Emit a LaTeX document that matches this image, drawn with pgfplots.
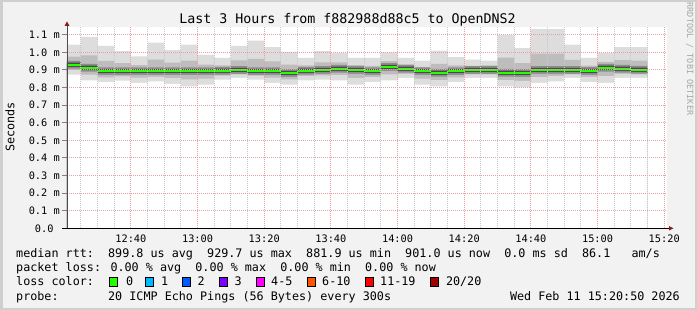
\documentclass[border=0pt]{standalone}
\usepackage{fontspec}
\setmainfont{DejaVu Sans Mono}
\usepackage{pgfplots}
\usepackage{pgfplotstable}
\pgfplotsset{compat=1.18}
\definecolor{bgc}{HTML}{F2F2F2}
\definecolor{frm}{HTML}{CFCFCF}
\definecolor{s1}{HTML}{DDDDDD}
\definecolor{s2}{HTML}{BDBDBD}
\definecolor{s3}{HTML}{8C8C8C}
\definecolor{s4}{HTML}{4A4A4A}
\definecolor{medc}{HTML}{26FF00}
\definecolor{mgrid}{HTML}{E8A0A0}
\definecolor{ngrid}{HTML}{C8C8C8}
\definecolor{arr}{HTML}{8B1A1A}
\definecolor{lc0}{HTML}{26FF00}
\definecolor{lc1}{HTML}{00B8FF}
\definecolor{lc2}{HTML}{0059FF}
\definecolor{lc3}{HTML}{7E00FF}
\definecolor{lc4}{HTML}{FF00FF}
\definecolor{lc5}{HTML}{FF5500}
\definecolor{lc6}{HTML}{FF0000}
\definecolor{lc7}{HTML}{A10000}
\pgfplotstableread{
x lo l2 l3 l4 med h4 h3 h2 hi
20.833 .873 .898 .9075 .9175 .9295 .9415 .9515 .975 1.043
25 .841 .873 .8905 .9005 .9125 .9245 .9345 .982 1.087
30 .830 .858 .871 .881 .893 .905 .915 .951 1.037
35 .839 .863 .871 .881 .893 .905 .915 .939 1.007
40 .826 .856 .871 .881 .893 .905 .915 .927 .977
45 .835 .861 .871 .881 .893 .905 .915 .958 1.055
50 .820 .853 .871 .881 .893 .905 .915 .941 1.013
55 .807 .846 .871 .881 .893 .905 .915 .953 1.043
60 .816 .851 .871 .881 .893 .905 .915 .930 .986
65 .845 .868 .8735 .8835 .8955 .9075 .9175 .925 .968
70 .854 .874 .877 .887 .899 .911 .921 .954 1.037
75 .845 .867 .871 .881 .893 .905 .915 .962 1.066
80 .826 .856 .871 .881 .893 .905 .915 .948 1.030
85 .816 .846 .860 .870 .882 .894 .904 .930 1.002
90 .840 .865 .8735 .8835 .8955 .9075 .9175 .925 .968
95 .845 .869 .877 .887 .899 .911 .921 .942 1.007
100 .840 .870 .885 .895 .907 .919 .929 .943 .996
105 .816 .853 .877 .887 .899 .911 .921 .927 .968
110 .831 .859 .871 .881 .893 .905 .915 .923 .968
115 .841 .875 .8945 .9045 .9165 .9285 .9385 .950 1.000
120 .854 .878 .885 .895 .907 .919 .929 .931 .968
125 .816 .851 .871 .881 .893 .905 .915 .917 .952
130 .807 .842 .862 .872 .884 .896 .906 .934 1.009
135 .830 .858 .871 .881 .893 .905 .915 .925 .972
140 .854 .874 .877 .887 .899 .911 .921 .923 .958
145 .854 .874 .877 .887 .899 .911 .921 .925 .952
150 .807 .842 .862 .872 .884 .896 .906 .969 1.097
155 .801 .837 .860 .870 .882 .894 .904 .939 1.024
160 .826 .859 .877 .887 .899 .911 .921 .992 1.132
165 .835 .864 .877 .887 .899 .911 .921 .992 1.132
170 .854 .874 .877 .887 .899 .911 .921 .957 1.043
175 .831 .859 .872 .882 .894 .906 .916 .924 .968
180 .826 .865 .8905 .9005 .9125 .9245 .9345 .946 .996
185 .854 .878 .885 .895 .907 .919 .929 .956 1.030
190 .854 .875 .879 .889 .901 .913 .923 .953 1.030
195 .854 .875 .879 .889 .901 .913 .923 .953 1.030
}\smoke
\newcommand\lgd{\fontsize{11.75}{14}\selectfont}
\begin{document}
\begin{tikzpicture}
\fill[bgc] (0pt,0pt) rectangle (697pt,-310pt);
\draw[frm, line width=2.5pt] (1.25pt,-1.25pt) rectangle (695.75pt,-308.75pt);
\begin{axis}[
  at={(67pt,-228.3pt)}, anchor=south west,
  scale only axis, width=600pt, height=201.3pt,
  xmin=20.8333, xmax=200.8333, ymin=0, ymax=1.1437,
  axis background/.style={fill=white},
  axis on top, axis line style={draw=none},
  xtick={40,60,80,100,120,140,160,180,200},
  xticklabels={12:40,13:00,13:20,13:40,14:00,14:20,14:40,15:00,15:20},
  minor xtick={25,30,35,45,50,55,65,70,75,85,90,95,105,110,115,125,130,135,145,150,155,165,170,175,185,190,195},
  ytick={0,0.1,0.2,0.3,0.4,0.5,0.6,0.7,0.8,0.9,1.0,1.1},
  yticklabels={0.0~~,0.1 m,0.2 m,0.3 m,0.4 m,0.5 m,0.6 m,0.7 m,0.8 m,0.9 m,1.0 m,1.1 m},
  grid=both,
  major grid style={mgrid, dash pattern=on 1pt off 1pt, line width=0.9pt},
  minor grid style={ngrid, dash pattern=on 1pt off 1pt, line width=0.9pt},
  tick align=outside, major tick length=5pt, minor tick length=0pt,
  xtick style={draw=none}, ytick style={draw=gray, line width=0.8pt},
  tickpos=left,
  ticklabel style={font=\fontsize{10.3}{12}\selectfont, inner sep=0pt},
  xticklabel style={anchor=base, yshift=-8.7pt},
  yticklabel style={anchor=east, xshift=-2pt},
]
\addplot[const plot mark left, fill=s1, draw=none] table[x=x,y=hi]{\smoke} \closedcycle;
\addplot[const plot mark left, fill=s2, draw=none] table[x=x,y=h2]{\smoke} \closedcycle;
\addplot[const plot mark left, fill=s3, draw=none] table[x=x,y=h3]{\smoke} \closedcycle;
\addplot[const plot mark left, fill=s4, draw=none] table[x=x,y=h4]{\smoke} \closedcycle;
\addplot[const plot mark left, fill=s3, draw=none] table[x=x,y=l4]{\smoke} \closedcycle;
\addplot[const plot mark left, fill=s2, draw=none] table[x=x,y=l3]{\smoke} \closedcycle;
\addplot[const plot mark left, fill=s1, draw=none] table[x=x,y=l2]{\smoke} \closedcycle;
\addplot[const plot mark left, fill=white, draw=none] table[x=x,y=lo]{\smoke} \closedcycle;
\addplot[jump mark left, draw=medc, line width=2pt] table[x=x,y=med]{\smoke};
\end{axis}
\begin{scope}[x=1pt,y=1pt]
\draw[gray!60!black, line width=1pt] (67,-228.3) -- (67,-25);
\fill[arr] (64.5,-26) -- (69.5,-26) -- (67,-21.5) -- cycle;
\draw[black, line width=1pt] (62,-228.3) -- (669,-228.3);
\fill[arr] (669,-226) -- (669,-230.6) -- (673.5,-228.3) -- cycle;
\node[anchor=base, font=\fontsize{13.3}{16}\selectfont, inner sep=0pt] at (347.5,-24) {Last 3 Hours from f882988d88c5 to OpenDNS2};
\node[rotate=90, font=\lgd, inner sep=0pt] at (10,-127) {Seconds};
\node[rotate=-90, font=\fontsize{8.5}{10}\selectfont, text=gray!70, inner sep=0pt] at (690,-59) {RRDTOOL / TOBI OETIKER};
\node[anchor=base west, font=\lgd, inner sep=0pt] at (16,-258) {median rtt:~~899.8 us avg~~929.7 us max~~881.9 us min~~901.0 us now~~0.0 ms sd~~86.1~~~am/s};
\node[anchor=base west, font=\lgd, inner sep=0pt] at (16,-272) {packet loss: 0.00 \% avg~~0.00 \% max~~0.00 \% min~~0.00 \% now};
\node[anchor=base west, font=\lgd, inner sep=0pt] at (16,-286) {loss color:};
\filldraw[fill=lc0, draw=black, line width=0.8pt] (109,-286.5) rectangle (117,-277.5);
\node[anchor=base west, font=\lgd, inner sep=0pt] at (125.8,-286) {0};
\filldraw[fill=lc1, draw=black, line width=0.8pt] (145.3,-286.5) rectangle (153.3,-277.5);
\node[anchor=base west, font=\lgd, inner sep=0pt] at (161,-286) {1};
\filldraw[fill=lc2, draw=black, line width=0.8pt] (182,-286.5) rectangle (190,-277.5);
\node[anchor=base west, font=\lgd, inner sep=0pt] at (197.5,-286) {2};
\filldraw[fill=lc3, draw=black, line width=0.8pt] (219.5,-286.5) rectangle (227.5,-277.5);
\node[anchor=base west, font=\lgd, inner sep=0pt] at (234.5,-286) {3};
\filldraw[fill=lc4, draw=black, line width=0.8pt] (256,-286.5) rectangle (264,-277.5);
\node[anchor=base west, font=\lgd, inner sep=0pt] at (271,-286) {4-5};
\filldraw[fill=lc5, draw=black, line width=0.8pt] (307.5,-286.5) rectangle (315.5,-277.5);
\node[anchor=base west, font=\lgd, inner sep=0pt] at (322,-286) {6-10};
\filldraw[fill=lc6, draw=black, line width=0.8pt] (365.3,-286.5) rectangle (373.3,-277.5);
\node[anchor=base west, font=\lgd, inner sep=0pt] at (380,-286) {11-19};
\filldraw[fill=lc7, draw=black, line width=0.8pt] (430,-286.5) rectangle (438,-277.5);
\node[anchor=base west, font=\lgd, inner sep=0pt] at (445.8,-286) {20/20};
\node[anchor=base west, font=\lgd, inner sep=0pt] at (16,-300) {probe:~~~~~~~20 ICMP Echo Pings (56 Bytes) every 300s};
\node[anchor=base east, font=\lgd, inner sep=0pt] at (680,-300) {Wed Feb 11 15:20:50 2026};
\end{scope}
\pgfresetboundingbox
\useasboundingbox (0pt,0pt) rectangle (697pt,-310pt);
\end{tikzpicture}
\end{document}
